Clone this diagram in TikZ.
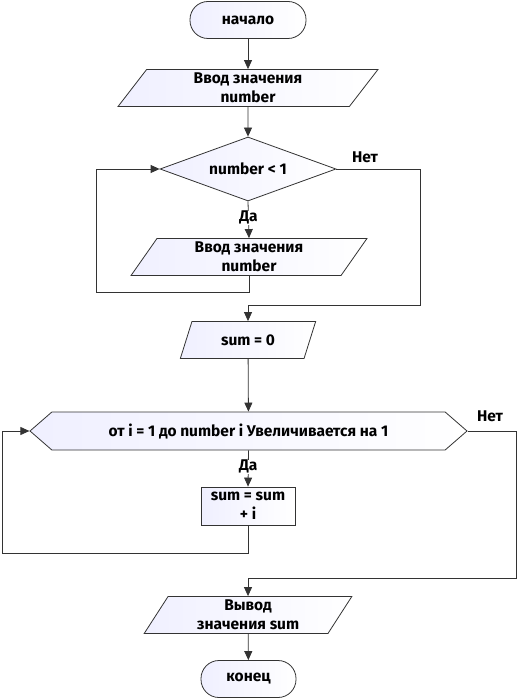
\documentclass[tikz,border=0pt]{standalone}
\usepackage{fontspec}
\setmainfont{Fira Sans}
\usepackage{tikz}
\usetikzlibrary{shapes.geometric, shapes.symbols, arrows.meta, positioning, calc}

\begin{document}
\begin{tikzpicture}[
    x=1pt, y=-1pt,
    every node/.style={font=\fontsize{15.5}{19}\selectfont\bfseries, align=center, inner sep=0pt},
    blockfill/.style={draw=black!80, line width=0.8pt, left color=blue!6!white, right color=white},
    termbox/.style={blockfill, rectangle, rounded corners=18pt, minimum width=116pt, minimum height=37pt},
    iobox/.style={blockfill, trapezium, trapezium left angle=63, trapezium right angle=117, trapezium stretches=true, minimum height=37pt},
    decbox/.style={blockfill, diamond, aspect=2.75, minimum width=176pt, minimum height=64pt},
    loopbox/.style={blockfill, signal, signal to=west and east, signal pointer angle=82, minimum width=437pt, minimum height=38pt},
    procbox/.style={blockfill, rectangle, minimum width=94pt, minimum height=38pt},
    line/.style={draw=black!80, line width=0.8pt},
    arrow/.style={line, -{Triangle[width=8pt,length=9pt]}},
    lbl/.style={fill=white, inner sep=0.5pt}
]
\useasboundingbox (0,0) rectangle (519,700);

% blocks
\node[termbox] (start) at (248,20) {начало};
\node[iobox, minimum width=260pt] (in1) at (248,88) {Ввод значения\\number};
\node[decbox] (dec) at (248,169) {number < 1};
\node[iobox, minimum width=236pt] (in2) at (249,257) {Ввод значения\\number};
\node[iobox, minimum width=136pt] (sum0) at (248,340) {sum = 0};
\node[loopbox] (loop) at (248.5,431) {от i = 1 до number i Увеличивается на 1};
\node[procbox] (proc) at (248,506) {sum = sum\\+ i};
\node[iobox, minimum width=208pt] (out) at (248,615) {Вывод\\значения sum};
\node[termbox, minimum width=95pt] (end) at (248.5,679) {конец};

% corner points
\coordinate (decR) at (420,305);
\coordinate (decL) at (96,292);
\coordinate (loopR) at (516,578);
\coordinate (loopL) at (2,553);

% connectors
\draw[arrow] (start) -- (in1);
\draw[arrow] (in1) -- (dec);
\draw[arrow] (dec.east) -| (decR) -| (sum0.north);
\node[lbl] at (365,157) {Нет};
\draw[arrow] (dec.south) -- node[lbl, pos=0.45] {Да} (in2.north);
\draw[line] (in2.south) |- (decL);
\draw[arrow] (decL) |- (dec.west);
\draw[arrow] (sum0) -- (loop);
\draw[arrow] (loop.east) -| (loopR) -| (out.north);
\node[lbl] at (490,416) {Нет};
\draw[arrow] (loop.south) -- node[lbl, pos=0.45] {Да} (proc.north);
\draw[line] (proc.south) |- (loopL);
\draw[arrow] (loopL) |- (loop.west);
\draw[arrow] (out) -- (end);
\end{tikzpicture}
\end{document}
